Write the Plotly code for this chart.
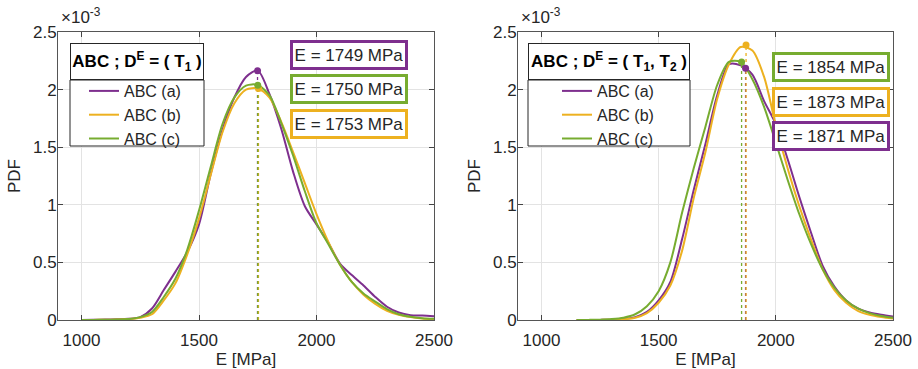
import plotly.graph_objects as go

# ---------------- data (PDF values in units of 1e-3) ----------------
E_left = [1000, 1050, 1100, 1150, 1200, 1250, 1300, 1350, 1400, 1450, 1500, 1550, 1600,
          1650, 1700, 1750, 1800, 1850, 1900, 1950, 2000, 2050, 2100, 2150, 2200, 2250,
          2300, 2350, 2400, 2450, 2500]
pdf_left_a = [0.0, 0.002, 0.004, 0.006, 0.01, 0.025, 0.10, 0.26, 0.42, 0.59, 0.83, 1.27, 1.65,
              1.93, 2.11, 2.165, 1.96, 1.66, 1.29, 0.99, 0.83, 0.67, 0.49, 0.39, 0.30, 0.20,
              0.115, 0.065, 0.042, 0.038, 0.032]
pdf_left_b = [0.0, 0.001, 0.002, 0.004, 0.008, 0.02, 0.05, 0.17, 0.32, 0.57, 0.88, 1.26, 1.63,
              1.88, 2.0, 2.01, 1.93, 1.72, 1.46, 1.19, 0.92, 0.68, 0.48, 0.33, 0.22, 0.14,
              0.08, 0.045, 0.025, 0.014, 0.008]
pdf_left_c = [0.0, 0.001, 0.002, 0.004, 0.008, 0.025, 0.07, 0.20, 0.36, 0.61, 0.95, 1.33, 1.70,
              1.93, 2.035, 2.04, 1.95, 1.71, 1.43, 1.12, 0.84, 0.66, 0.48, 0.33, 0.23, 0.16,
              0.095, 0.05, 0.028, 0.016, 0.01]

E_right = [1150, 1200, 1250, 1300, 1350, 1400, 1450, 1500, 1550, 1600, 1650, 1700, 1750,
           1800, 1850, 1900, 1950, 2000, 2050, 2100, 2150, 2200, 2250, 2300, 2350, 2400,
           2450, 2500]
pdf_right_a = [0.0, 0.0, 0.001, 0.003, 0.008, 0.025, 0.07, 0.17, 0.33, 0.70, 1.13, 1.53, 1.95,
               2.22, 2.21, 2.13, 1.90, 1.70, 1.40, 1.07, 0.76, 0.47, 0.29, 0.17, 0.10, 0.065,
               0.045, 0.03]
pdf_right_b = [0.0, 0.0, 0.001, 0.002, 0.006, 0.02, 0.06, 0.15, 0.30, 0.60, 1.06, 1.46, 1.92,
               2.22, 2.37, 2.34, 2.11, 1.69, 1.32, 0.99, 0.70, 0.44, 0.26, 0.15, 0.08, 0.045,
               0.025, 0.012]
pdf_right_c = [0.0, 0.001, 0.003, 0.008, 0.02, 0.05, 0.12, 0.25, 0.50, 0.93, 1.32, 1.68, 2.04,
               2.24, 2.24, 2.09, 1.85, 1.54, 1.22, 0.92, 0.66, 0.44, 0.28, 0.17, 0.10, 0.06,
               0.035, 0.02]

peak_E_left = [1749, 1753, 1750]          # a, b, c
peak_pdf_left = [2.164, 2.01, 2.037]
peak_E_right = [1871, 1873, 1854]
peak_pdf_right = [2.185, 2.387, 2.24]

series_names = ["ABC (a)", "ABC (b)", "ABC (c)"]
colors = ["#7E2F8E", "#EDB120", "#77AC30"]

x_ticks = [1000, 1500, 2000, 2500]
y_ticks = [0, 0.5, 1, 1.5, 2, 2.5]
y_ticklabels = ["0", "0.5", "1", "1.5", "2", "2.5"]

FONT = "Liberation Sans, Arial, sans-serif"
TXT = "#262626"
FS = 17

fig = go.Figure()

panels = [
    ("x", "y", "legend", E_left, [pdf_left_a, pdf_left_b, pdf_left_c], peak_E_left, peak_pdf_left),
    ("x2", "y2", "legend2", E_right, [pdf_right_a, pdf_right_b, pdf_right_c], peak_E_right, peak_pdf_right),
]

for xa, ya, lg, E, curves, pE, pP in panels:
    for name, col, vals in zip(series_names, colors, curves):
        fig.add_trace(go.Scatter(x=E, y=vals, mode="lines", name=name,
                                 line=dict(color=col, width=2, shape="spline", smoothing=0.8),
                                 xaxis=xa, yaxis=ya, legend=lg, showlegend=True))
    for col, e, p in zip(colors, pE, pP):
        fig.add_trace(go.Scatter(x=[e, e], y=[0, p], mode="lines",
                                 line=dict(color=col, width=1.3, dash="dot"),
                                 xaxis=xa, yaxis=ya, showlegend=False, hoverinfo="skip"))
    for col, e, p in zip(colors, pE, pP):
        fig.add_trace(go.Scatter(x=[e], y=[p], mode="markers",
                                 marker=dict(color=col, size=7),
                                 xaxis=xa, yaxis=ya, showlegend=False))

W, H = 918, 369
def px(x):
    return x / W
def py(y):
    return 1 - y / H

axis_common = dict(
    range=[900, 2500], tickvals=x_ticks, ticks="inside", ticklen=5, tickcolor="#444",
    showline=True, linecolor="#555", linewidth=1, mirror="ticks",
    showgrid=True, gridcolor="#e3e3e3", gridwidth=1, zeroline=False,
    tickfont=dict(family=FONT, size=FS, color=TXT), automargin=False, ticklabelstandoff=5,
    title=dict(text="E [MPa]", font=dict(family=FONT, size=FS, color=TXT), standoff=3),
)
yaxis_common = dict(
    range=[0, 2.5], tickvals=y_ticks, ticktext=y_ticklabels, ticks="inside", ticklen=5,
    tickcolor="#444", showline=True, linecolor="#555", linewidth=1, mirror="ticks",
    showgrid=True, gridcolor="#e3e3e3", gridwidth=1, zeroline=False,
    tickfont=dict(family=FONT, size=FS, color=TXT), automargin=False, ticklabelstandoff=-3,
    title=dict(text="PDF", font=dict(family=FONT, size=FS, color=TXT), standoff=8),
)

legend_common = dict(xanchor="left", yanchor="top", bgcolor="rgba(0,0,0,0)",
                     borderwidth=0, font=dict(family=FONT, size=16, color=TXT),
                     tracegroupgap=0, itemwidth=30)

ydom = [py(320), py(32)]
fig.update_layout(
    width=W, height=H, margin=dict(l=0, r=0, t=0, b=0),
    paper_bgcolor="white", plot_bgcolor="white",
    font=dict(family=FONT, size=FS, color=TXT),
    xaxis=dict(domain=[px(58), px(434)], anchor="y", **axis_common),
    yaxis=dict(domain=ydom, anchor="x", **yaxis_common),
    xaxis2=dict(domain=[px(518), px(893)], anchor="y2", **axis_common),
    yaxis2=dict(domain=ydom, anchor="x2", **yaxis_common),
    legend=dict(x=px(84), y=py(74), **legend_common),
    legend2=dict(x=px(557), y=py(74), **legend_common),
    showlegend=True,
)

# legend frames (title box + entries box)
legend_boxes = [
    (70, 204, "<b>ABC ; D<sup>E</sup> = ( T<sub>1</sub> )</b>"),
    (528, 690, "<b>ABC ; D<sup>E</sup> = ( T<sub>1</sub>, T<sub>2</sub> )</b>"),
]
for x0, x1, title in legend_boxes:
    fig.add_shape(type="rect", xref="paper", yref="paper", x0=px(x0), x1=px(x1),
                  y0=py(146), y1=py(80), line=dict(color="#262626", width=1),
                  fillcolor="white", layer="above")
    fig.add_annotation(x=px((x0 + x1) / 2), y=py(61.5), xref="paper", yref="paper",
                       xanchor="center", yanchor="middle", showarrow=False,
                       text=title, font=dict(family=FONT, size=17, color="#000"),
                       bgcolor="white", bordercolor="#262626", borderwidth=1, borderpad=0,
                       width=x1 - x0 - 2, height=35)

# exponent labels
for xpos in [59, 519]:
    fig.add_annotation(x=px(xpos), y=py(29), xref="paper", yref="paper",
                       xanchor="left", yanchor="bottom", showarrow=False,
                       text="×10<sup>-3</sup>", font=dict(family=FONT, size=FS, color=TXT))

# value boxes
boxes = [
    (348.5, 55.5, "E = 1749 MPa", colors[0]),
    (348.5, 89.0, "E = 1750 MPa", colors[2]),
    (348.5, 123.5, "E = 1753 MPa", colors[1]),
    (831.0, 66.7, "E = 1854 MPa", colors[2]),
    (831.0, 101.7, "E = 1873 MPa", colors[1]),
    (831.0, 136.2, "E = 1871 MPa", colors[0]),
]
for bx, by, t, c in boxes:
    fig.add_annotation(x=px(bx), y=py(by), xref="paper", yref="paper",
                       xanchor="center", yanchor="middle", showarrow=False,
                       text=t, font=dict(family=FONT, size=FS, color=TXT),
                       bgcolor="white", bordercolor=c, borderwidth=3, borderpad=2,
                       width=108, height=20)

fig.write_html("out.html",
               config={"displayModeBar": False},
               post_script="document.body.style.margin='0';"
                           "document.body.style.overflow='hidden';")
